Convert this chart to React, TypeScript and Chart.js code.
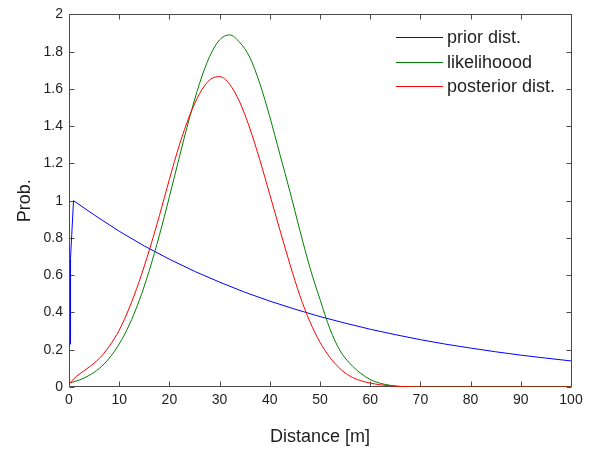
import React, { useEffect, useRef } from "react";
import { Chart, registerables } from "chart.js";

Chart.register(...registerables);

// Distance grid (m) for likelihood and posterior
const distance = [0, 1, 2, 4, 6, 8, 10, 12, 14, 16, 18, 20, 22, 24, 26, 28, 30, 32, 34, 36, 38, 40, 42, 44, 46, 48, 50, 52, 54, 56, 58, 60, 62, 64, 66, 68, 70, 75, 80, 85, 90, 95, 100];
const likelihood = [0.022, 0.028, 0.037, 0.062, 0.099, 0.154, 0.231, 0.333, 0.465, 0.626, 0.814, 1.021, 1.236, 1.444, 1.629, 1.773, 1.863, 1.89, 1.85, 1.77, 1.63, 1.45, 1.25, 1.05, 0.84, 0.64, 0.47, 0.31, 0.195, 0.125, 0.076, 0.04, 0.02, 0.009, 0.003, 0.001, 0, 0, 0, 0, 0, 0, 0];
const posterior = [0.015, 0.045, 0.068, 0.107, 0.152, 0.218, 0.305, 0.424, 0.568, 0.735, 0.919, 1.115, 1.3, 1.455, 1.574, 1.648, 1.666, 1.625, 1.53, 1.39, 1.22, 1.033, 0.844, 0.66, 0.49, 0.35, 0.24, 0.158, 0.098, 0.058, 0.035, 0.021, 0.012, 0.006, 0.003, 0.001, 0, 0, 0, 0, 0, 0, 0];

// Prior distribution
const priorDistance = [0.2, 0.3, 0.9, 2, 3, 5, 10, 15, 20, 25, 30, 35, 40, 45, 50, 55, 60, 65, 70, 75, 80, 85, 90, 95, 100];
const priorProb = [0.23, 0.69, 1.0, 0.98, 0.961, 0.924, 0.836, 0.757, 0.686, 0.621, 0.563, 0.509, 0.461, 0.418, 0.378, 0.343, 0.31, 0.281, 0.254, 0.23, 0.209, 0.189, 0.171, 0.155, 0.14];

const seriesLabels = ["prior dist.", "likelihoood", "posterior dist."];
const seriesColors = ["#0000ff", "#008000", "#ff0000"];

const xTitle = "Distance [m]";
const yTitle = "Prob.";

const FONT = "'Liberation Sans', Arial, Helvetica, sans-serif";
const AXIS_COLOR = "#4a4a4a";
const TEXT_COLOR = "#1e1e1e";

const framePlugin = {
  id: "matlabFrame",
  beforeDatasetsDraw(chart: any) {
    const { ctx, chartArea, scales } = chart;
    const l = Math.round(chartArea.left) + 0.5;
    const r = Math.round(chartArea.right) + 0.5;
    const t = Math.round(chartArea.top) + 0.5;
    const b = Math.round(chartArea.bottom) - 0.5;
    const tl = 5;
    ctx.save();
    ctx.strokeStyle = AXIS_COLOR;
    ctx.lineWidth = 1;
    ctx.beginPath();
    ctx.rect(l, t, r - l, b - t);
    scales.x.ticks.forEach((tk: any) => {
      const px = Math.round(scales.x.getPixelForValue(tk.value)) + 0.5;
      ctx.moveTo(px, b);
      ctx.lineTo(px, b - tl);
      ctx.moveTo(px, t);
      ctx.lineTo(px, t + tl);
    });
    scales.y.ticks.forEach((tk: any) => {
      const py = Math.round(scales.y.getPixelForValue(tk.value)) + 0.5;
      ctx.moveTo(l, py);
      ctx.lineTo(l + tl, py);
      ctx.moveTo(r, py);
      ctx.lineTo(r - tl, py);
    });
    ctx.stroke();
    ctx.restore();
  },
};

const legendPlugin = {
  id: "matlabLegend",
  afterDatasetsDraw(chart: any) {
    const { ctx, chartArea } = chart;
    const x0 = chartArea.right - 175;
    const lineLen = 47;
    const y0 = chartArea.top + 23;
    const step = 24.2;
    ctx.save();
    ctx.font = `18px ${FONT}`;
    ctx.textBaseline = "middle";
    ctx.textAlign = "left";
    chart.data.datasets.forEach((ds: any, i: number) => {
      const y = Math.round(y0 + i * step) + 0.5;
      ctx.strokeStyle = ds.borderColor;
      ctx.lineWidth = 1;
      ctx.beginPath();
      ctx.moveTo(x0, y);
      ctx.lineTo(x0 + lineLen, y);
      ctx.stroke();
      ctx.fillStyle = TEXT_COLOR;
      ctx.fillText(ds.label, x0 + lineLen + 4, y + 1);
    });
    ctx.restore();
  },
};

export default function App() {
  const canvasRef = useRef<HTMLCanvasElement | null>(null);

  useEffect(() => {
    document.body.style.margin = "0";
    const canvas = canvasRef.current;
    if (!canvas) return;
    const chart = new Chart(canvas, {
      type: "line",
      data: {
        datasets: [
          {
            label: seriesLabels[0],
            data: priorDistance.map((x, i) => ({ x, y: priorProb[i] })),
            borderColor: seriesColors[0],
            backgroundColor: seriesColors[0],
            borderWidth: 1,
            pointRadius: 0,
            fill: false,
            tension: 0,
            order: 3,
          },
          {
            label: seriesLabels[1],
            data: distance.map((x, i) => ({ x, y: likelihood[i] })),
            borderColor: seriesColors[1],
            backgroundColor: seriesColors[1],
            borderWidth: 1,
            pointRadius: 0,
            fill: false,
            cubicInterpolationMode: "monotone",
            order: 2,
          },
          {
            label: seriesLabels[2],
            data: distance.map((x, i) => ({ x, y: posterior[i] })),
            borderColor: seriesColors[2],
            backgroundColor: seriesColors[2],
            borderWidth: 1,
            pointRadius: 0,
            fill: false,
            cubicInterpolationMode: "monotone",
            order: 1,
          },
        ],
      },
      options: {
        responsive: false,
        maintainAspectRatio: false,
        devicePixelRatio: 1,
        animation: false,
        layout: { padding: { left: 0, top: 13, right: 23, bottom: 0 } },
        plugins: {
          legend: { display: false },
          tooltip: { enabled: false },
        },
        scales: {
          x: {
            type: "linear",
            min: 0,
            max: 100,
            grid: { display: false, drawTicks: false },
            border: { display: false },
            ticks: {
              stepSize: 10,
              padding: 5,
              color: TEXT_COLOR,
              font: { family: FONT, size: 14 },
              maxRotation: 0,
            },
            title: {
              display: true,
              text: xTitle,
              color: TEXT_COLOR,
              font: { family: FONT, size: 18 },
              padding: { top: 0, bottom: 2 },
            },
            afterFit(scale: any) {
              scale.height = 63;
            },
          },
          y: {
            type: "linear",
            min: 0,
            max: 2,
            grid: { display: false, drawTicks: false },
            border: { display: false },
            ticks: {
              stepSize: 0.2,
              padding: 6,
              color: TEXT_COLOR,
              font: { family: FONT, size: 14 },
              callback: (v: any) => String(+Number(v).toFixed(2)),
            },
            title: {
              display: true,
              text: yTitle,
              color: TEXT_COLOR,
              font: { family: FONT, size: 18 },
              padding: { top: 14, bottom: 0 },
            },
            afterFit(scale: any) {
              scale.width = 69;
            },
          },
        },
      },
      plugins: [framePlugin, legendPlugin],
    } as any);
    return () => chart.destroy();
  }, []);

  return (
    <div style={{ position: "fixed", left: 0, top: 0, width: 594, height: 450, background: "#fff" }}>
      <canvas ref={canvasRef} width={594} height={450} style={{ display: "block", width: 594, height: 450 }} />
    </div>
  );
}
